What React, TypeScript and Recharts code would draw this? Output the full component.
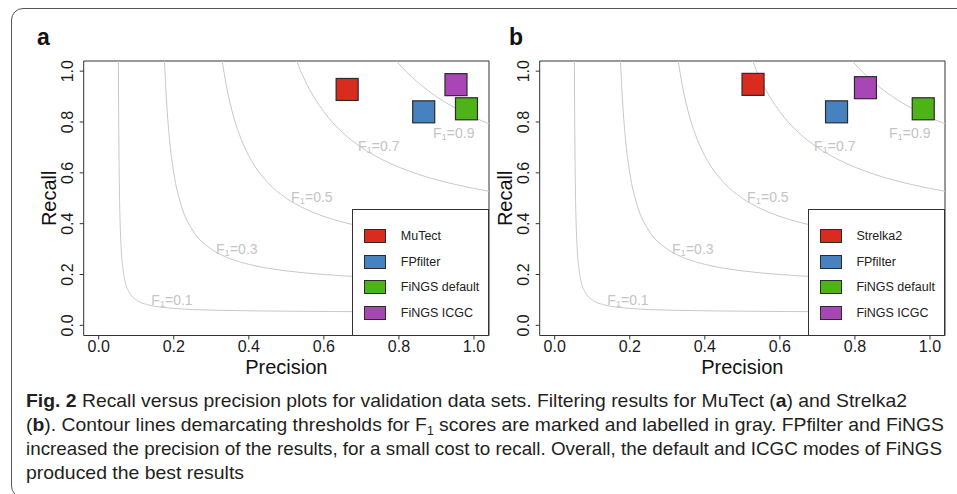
import React from "react"
import { ComposedChart, Legend, Line, ReferenceArea, Scatter, XAxis, YAxis } from "recharts"

const FONT = "'Liberation Sans', Arial, sans-serif"

const axisTicks = [0, 0.2, 0.4, 0.6, 0.8, 1.0]
const axisDomain: [number, number] = [-0.04, 1.04]

const toolColors = ["#d92b1e", "#4682bf", "#4db318", "#a846b6"]

const toolsA = ["MuTect", "FPfilter", "FiNGS default", "FiNGS ICGC"]
const precisionA = [0.662, 0.866, 0.98, 0.952]
const recallA = [0.928, 0.84, 0.852, 0.947]

const toolsB = ["Strelka2", "FPfilter", "FiNGS default", "FiNGS ICGC"]
const precisionB = [0.5285, 0.751, 0.982, 0.828]
const recallB = [0.948, 0.84, 0.852, 0.935]

// F1 contour lines (precision / recall pairs)
const f1Levels = ["0.1", "0.3", "0.5", "0.7", "0.9"]
const f1Precision01 = [0.0525, 0.053, 0.054, 0.055, 0.057, 0.06, 0.065, 0.07, 0.08, 0.1, 0.13, 0.2, 0.3, 0.5, 0.75, 1.04]
const f1Recall01 = [1.05, 0.883, 0.675, 0.55, 0.407, 0.3, 0.217, 0.175, 0.133, 0.1, 0.0813, 0.0667, 0.06, 0.0556, 0.0536, 0.0525]
const f1Precision03 = [0.175, 0.177, 0.18, 0.185, 0.19, 0.2, 0.22, 0.25, 0.3, 0.35, 0.4, 0.5, 0.6, 0.7, 0.8, 0.9, 1.04]
const f1Recall03 = [1.05, 0.983, 0.9, 0.793, 0.7125, 0.6, 0.4714, 0.375, 0.3, 0.2625, 0.24, 0.2143, 0.2, 0.1909, 0.1846, 0.18, 0.1753]
const f1Precision05 = [0.328, 0.34, 0.36, 0.38, 0.4, 0.45, 0.5, 0.55, 0.6, 0.7, 0.8, 0.9, 1.04]
const f1Recall05 = [1.051, 0.944, 0.818, 0.731, 0.667, 0.5625, 0.5, 0.4583, 0.4286, 0.3889, 0.3636, 0.3462, 0.3291]
const f1Precision07 = [0.527, 0.535, 0.55, 0.6, 0.65, 0.7, 0.75, 0.8, 0.85, 0.9, 0.95, 1.04]
const f1Recall07 = [1.042, 1.012, 0.9625, 0.84, 0.7583, 0.7, 0.6563, 0.6222, 0.595, 0.5727, 0.5542, 0.5275]
const f1Precision09 = [0.793, 0.82, 0.85, 0.9, 0.95, 1.0, 1.04]
const f1Recall09 = [1.0404, 0.9973, 0.9563, 0.9, 0.855, 0.8182, 0.7932]

const f1LabelPrecision = [0.195, 0.368, 0.568, 0.746, 0.946]
const f1LabelRecall = [0.1, 0.3, 0.503, 0.704, 0.755]

const contourP = [f1Precision01, f1Precision03, f1Precision05, f1Precision07, f1Precision09]
const contourR = [f1Recall01, f1Recall03, f1Recall05, f1Recall07, f1Recall09]
const contours = f1Levels.map((level, i) => ({
  level,
  data: contourP[i].map((p, j) => ({ p, r: contourR[i][j] })),
}))
const contourLabels = f1Levels.map((label, i) => ({ label, p: f1LabelPrecision[i], r: f1LabelRecall[i] }))

const captionLine3 =
  "increased the precision of the results, for a small cost to recall. Overall, the default and ICGC modes of FiNGS"
const captionLine4 = "produced the best results"

function XTick({ x, y, payload }: any) {
  return (
    <text x={x} y={y + 5} textAnchor="middle" dominantBaseline="central" fontSize={16} fill="#1a1a1a" fontFamily={FONT}>
      {Number(payload.value).toFixed(1)}
    </text>
  )
}

function YTick({ x, y, payload }: any) {
  const tx = x - 10
  return (
    <text
      x={tx}
      y={y}
      transform={`rotate(-90 ${tx} ${y})`}
      textAnchor="middle"
      dominantBaseline="central"
      fontSize={16}
      fill="#1a1a1a"
      fontFamily={FONT}
    >
      {Number(payload.value).toFixed(1)}
    </text>
  )
}

function Square({ cx, cy, fill }: any) {
  return <rect x={cx - 11} y={cy - 11} width={22} height={22} fill={fill} stroke="#2b2b2b" strokeWidth={1.2} />
}

function F1Label({ cx, cy, payload }: any) {
  return (
    <text x={cx} y={cy} textAnchor="middle" dominantBaseline="central" fontSize={14} fill="#c4c4c4" fontFamily={FONT}>
      F
      <tspan dy={3} fontSize={9.5}>
        1
      </tspan>
      <tspan dy={-3}>={payload.label}</tspan>
    </text>
  )
}

const precisionTitle = () => (
  <text x={286.3} y={367} textAnchor="middle" dominantBaseline="central" fontSize={20} fill="#111" fontFamily={FONT}>
    Precision
  </text>
)

const recallTitle = () => (
  <text
    x={49}
    y={198.3}
    transform="rotate(-90 49 198.3)"
    textAnchor="middle"
    dominantBaseline="central"
    fontSize={20}
    fill="#111"
    fontFamily={FONT}
  >
    Recall
  </text>
)

function LegendBox({ tools }: { tools: string[] }) {
  return (
    <div
      style={{
        width: 137,
        height: 126.5,
        boxSizing: "border-box",
        border: "1px solid #333",
        background: "#fff",
        position: "relative",
        fontFamily: FONT,
      }}
    >
      {tools.map((t, i) => (
        <div
          key={t}
          style={{ position: "absolute", left: 11, top: 19 + i * 25.5, height: 14, display: "flex", alignItems: "center" }}
        >
          <span
            style={{
              display: "inline-block",
              width: 22,
              height: 14,
              background: toolColors[i],
              border: "1px solid #2b2b2b",
              boxSizing: "border-box",
            }}
          />
          <span style={{ marginLeft: 14.5, fontSize: 12.5, color: "#222", whiteSpace: "nowrap" }}>{t}</span>
        </div>
      ))}
    </div>
  )
}

function Panel({ left, tools, precision, recall }: { left: number; tools: string[]; precision: number[]; recall: number[] }) {
  const points = tools.map((name, i) => ({ name, p: precision[i], r: recall[i], color: toolColors[i] }))
  return (
    <div style={{ position: "absolute", left, top: 0 }}>
      <ComposedChart width={500} height={400} margin={{ top: 61, right: 11, bottom: 24.5, left: 43.7 }} style={{ fontFamily: FONT }}>
        <XAxis
          type="number"
          dataKey="p"
          domain={axisDomain}
          ticks={axisTicks}
          allowDataOverflow
          axisLine={false}
          tickLine={{ stroke: "#333" }}
          tickSize={4}
          height={40}
          tick={<XTick />}
          label={{ content: precisionTitle }}
        />
        <YAxis
          type="number"
          dataKey="r"
          domain={axisDomain}
          ticks={axisTicks}
          allowDataOverflow
          axisLine={false}
          tickLine={{ stroke: "#333" }}
          tickSize={4}
          width={40}
          tick={<YTick />}
          label={{ content: recallTitle }}
        />
        {contours.map((c) => (
          <Line
            key={c.level}
            data={c.data}
            dataKey="r"
            type="monotone"
            stroke="#c8c8c8"
            strokeWidth={1}
            dot={false}
            activeDot={false}
            isAnimationActive={false}
          />
        ))}
        <Scatter data={contourLabels} dataKey="r" shape={<F1Label />} isAnimationActive={false} />
        {points.map((pt) => (
          <Scatter key={pt.name} name={pt.name} data={[pt]} dataKey="r" fill={pt.color} shape={<Square />} isAnimationActive={false} />
        ))}
        <ReferenceArea x1={-0.04} x2={1.04} y1={-0.04} y2={1.04} fill="none" stroke="#333" strokeWidth={1} />
        <Legend
          layout="vertical"
          align="center"
          verticalAlign="middle"
          content={() => <LegendBox tools={tools} />}
          wrapperStyle={{ position: "absolute", left: 352.3, top: 209, width: 137, height: 126.5 }}
        />
      </ComposedChart>
    </div>
  )
}

export default function App() {
  return (
    <div style={{ position: "relative", width: 957, height: 494, overflow: "hidden", background: "#fff" }}>
      <style>{`body{margin:0}`}</style>
      <div
        style={{
          position: "absolute",
          left: 11,
          top: 8,
          width: 990,
          height: 488,
          border: "1.3px solid #555",
          borderRadius: 12,
        }}
      />
      <svg style={{ position: "absolute", left: 0, top: 0 }} width={957} height={60}>
        <text x={37} y={45} fontSize={23} fontWeight="bold" fontFamily={FONT} fill="#111">
          a
        </text>
        <text x={509} y={45} fontSize={23} fontWeight="bold" fontFamily={FONT} fill="#111">
          b
        </text>
      </svg>
      <Panel left={0} tools={toolsA} precision={precisionA} recall={recallA} />
      <Panel left={455.6} tools={toolsB} precision={precisionB} recall={recallB} />
      <svg style={{ position: "absolute", left: 0, top: 380 }} width={957} height={114}>
        <g fontFamily="'Liberation Sans Narrow', 'Liberation Sans', Arial, sans-serif" fontSize={19} fill="#231f20" style={{ whiteSpace: "pre" }}>
          <text x={26} y={27} textLength={881} lengthAdjust="spacingAndGlyphs">
            <tspan fontWeight="bold">Fig. 2</tspan>
            {"  Recall versus precision plots for validation data sets. Filtering results for MuTect ("}
            <tspan fontWeight="bold">a</tspan>
            {") and Strelka2"}
          </text>
          <text x={26} y={51} textLength={918} lengthAdjust="spacingAndGlyphs">
            {"("}
            <tspan fontWeight="bold">b</tspan>
            {"). Contour lines demarcating thresholds for F"}
            <tspan dy={4} fontSize={12}>
              1
            </tspan>
            <tspan dy={-4}>{" scores are marked and labelled in gray. FPfilter and FiNGS"}</tspan>
          </text>
          <text x={26} y={75} textLength={916} lengthAdjust="spacingAndGlyphs">
            {captionLine3}
          </text>
          <text x={26} y={99} textLength={218} lengthAdjust="spacingAndGlyphs">
            {captionLine4}
          </text>
        </g>
      </svg>
    </div>
  )
}
